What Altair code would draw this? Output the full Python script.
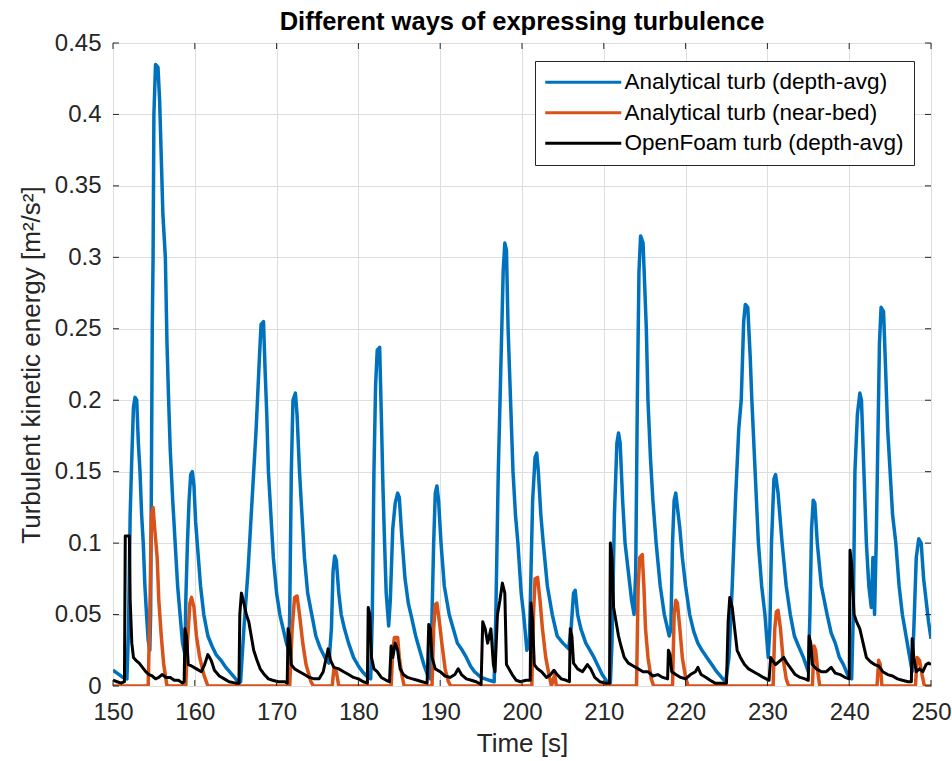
import altair as alt
import pandas as pd

# ---------------- data ----------------
names = ["Analytical turb (depth-avg)", "Analytical turb (near-bed)", "OpenFoam turb (depth-avg)"]
colors = ["#0072BD", "#D95319", "#000000"]

blue_t = [150.0, 150.5, 151.2, 151.7, 151.9, 152.1, 152.3, 152.5, 152.7, 152.9, 153.1, 153.3, 153.5, 153.7, 153.9,
          154.1, 154.3, 154.5, 154.6, 154.7, 154.8, 154.9, 155.0, 155.2, 155.5, 155.7, 155.9, 156.1, 156.4, 156.6,
          156.8, 157.0, 157.3, 157.6, 157.9, 158.2, 158.5, 158.8, 158.9, 159.1, 159.3, 159.5, 159.7, 159.9, 160.1,
          160.3, 160.7, 161.1, 161.6, 162.1, 162.6, 163.2, 163.8, 164.4, 165.0, 165.4, 165.6, 166.0, 166.5, 167.0,
          167.5, 167.9, 168.1, 168.4, 168.6, 168.8, 169.0, 169.3, 169.6, 170.0, 170.4, 170.8, 171.2, 171.5, 171.6,
          171.8, 172.0, 172.3, 172.5, 172.8, 173.1, 173.4, 173.8, 174.3, 174.8, 175.3, 175.9, 176.4, 176.7, 176.9,
          177.1, 177.3, 177.6, 177.9, 178.3, 178.8, 179.4, 180.0, 180.5, 181.0, 181.5, 181.7, 181.9, 182.1, 182.3,
          182.6, 182.8, 183.0, 183.2, 183.4, 183.7, 183.9, 184.2, 184.5, 184.8, 185.0, 185.3, 185.7, 186.1, 186.5,
          187.0, 187.5, 188.0, 188.5, 188.8, 189.0, 189.2, 189.4, 189.6, 189.8, 190.1, 190.5, 191.1, 191.6, 192.1,
          192.7, 193.2, 193.7, 194.2, 195.0, 196.0, 196.6, 196.8, 197.1, 197.4, 197.7, 197.9, 198.1, 198.3, 198.6,
          198.9, 199.2, 199.5, 199.9, 200.2, 200.6, 200.9, 201.1, 201.3, 201.6, 201.8, 202.0, 202.3, 202.6, 203.1,
          203.7, 204.3, 205.0, 205.7, 206.0, 206.3, 206.5, 206.8, 207.2, 207.8, 208.4, 208.8, 209.3, 209.8, 210.4,
          210.8, 211.0, 211.3, 211.6, 211.8, 212.0, 212.3, 212.6, 213.0, 213.4, 213.7, 213.9, 214.1, 214.3, 214.5,
          214.8, 215.0, 215.2, 215.4, 215.7, 216.0, 216.4, 216.9, 217.4, 218.0, 218.2, 218.4, 218.6, 218.8, 219.0,
          219.3, 219.6, 220.0, 220.5, 221.0, 221.5, 222.0, 222.6, 223.2, 223.8, 224.4, 224.9, 225.3, 225.7, 226.1,
          226.5, 226.8, 227.1, 227.3, 227.6, 227.9, 228.1, 228.5, 228.9, 229.3, 229.7, 230.1, 230.3, 230.5, 230.8,
          231.0, 231.3, 231.8, 232.3, 232.8, 233.3, 233.8, 234.4, 235.0, 235.2, 235.4, 235.6, 235.8, 236.1, 236.6,
          237.3, 237.8, 238.3, 238.8, 239.3, 239.8, 240.3, 240.5, 240.7, 241.0, 241.3, 241.5, 241.8, 242.1, 242.4,
          242.7, 242.9, 243.1, 243.3, 243.5, 243.7, 243.9, 244.2, 244.4, 244.7, 245.0, 245.3, 245.7, 246.1, 246.5,
          247.1, 247.7, 247.9, 248.2, 248.5, 248.8, 249.1, 249.4, 249.7, 250.0]
blue_v = [0.011, 0.009, 0.006, 0.005, 0.04, 0.12, 0.16, 0.195, 0.202, 0.2, 0.17, 0.15, 0.12, 0.1, 0.07,
          0.05, 0.032, 0.025, 0.05, 0.15, 0.25, 0.3, 0.4, 0.435, 0.433, 0.41, 0.37, 0.33, 0.3, 0.24,
          0.2, 0.165, 0.13, 0.1, 0.07, 0.05, 0.03, 0.022, 0.06, 0.1, 0.13, 0.148, 0.15, 0.14, 0.115,
          0.1, 0.07, 0.05, 0.035, 0.028, 0.022, 0.018, 0.013, 0.009, 0.005, 0.002, 0.003, 0.04, 0.08, 0.13,
          0.18, 0.23, 0.253, 0.255, 0.22, 0.19, 0.15, 0.12, 0.09, 0.065, 0.05, 0.04, 0.03, 0.025, 0.05,
          0.15, 0.2, 0.205, 0.19, 0.15, 0.12, 0.09, 0.065, 0.05, 0.035, 0.027, 0.02, 0.016, 0.04, 0.08,
          0.091, 0.088, 0.065, 0.05, 0.04, 0.03, 0.02, 0.014, 0.01, 0.007, 0.005, 0.05, 0.15, 0.21, 0.235,
          0.237, 0.19, 0.14, 0.1, 0.065, 0.042, 0.06, 0.11, 0.128, 0.135, 0.132, 0.105, 0.075, 0.058, 0.048,
          0.035, 0.025, 0.015, 0.007, 0.005, 0.05, 0.1, 0.135, 0.14, 0.13, 0.1, 0.07, 0.05, 0.04, 0.03,
          0.025, 0.02, 0.014, 0.01, 0.006, 0.004, 0.003, 0.05, 0.15, 0.22, 0.29, 0.31, 0.305, 0.25, 0.2,
          0.15, 0.12, 0.1, 0.065, 0.05, 0.025, 0.03, 0.08, 0.13, 0.16, 0.163, 0.15, 0.12, 0.1, 0.07,
          0.05, 0.035, 0.03, 0.026, 0.04, 0.065, 0.067, 0.05, 0.04, 0.03, 0.024, 0.02, 0.014, 0.008, 0.003,
          0.002, 0.03, 0.12, 0.17, 0.177, 0.17, 0.13, 0.1, 0.08, 0.06, 0.05, 0.08, 0.2, 0.29, 0.315,
          0.31, 0.28, 0.25, 0.2, 0.16, 0.13, 0.1, 0.07, 0.05, 0.035, 0.04, 0.1, 0.13, 0.135, 0.125,
          0.11, 0.09, 0.07, 0.05, 0.038, 0.03, 0.025, 0.02, 0.015, 0.01, 0.006, 0.003, 0.02, 0.07, 0.13,
          0.18, 0.2, 0.255, 0.267, 0.265, 0.23, 0.2, 0.15, 0.1, 0.07, 0.05, 0.02, 0.04, 0.1, 0.145,
          0.148, 0.135, 0.1, 0.07, 0.05, 0.035, 0.028, 0.02, 0.01, 0.05, 0.11, 0.13, 0.128, 0.1, 0.07,
          0.05, 0.037, 0.03, 0.02, 0.015, 0.008, 0.005, 0.05, 0.15, 0.19, 0.205, 0.2, 0.15, 0.1, 0.07,
          0.055, 0.09, 0.05, 0.1, 0.17, 0.24, 0.265, 0.262, 0.23, 0.18, 0.15, 0.12, 0.1, 0.07, 0.05,
          0.03, 0.01, 0.04, 0.09, 0.103, 0.1, 0.075, 0.06, 0.045, 0.033]

orange_t = [150.0, 154.3, 154.5, 154.7, 154.9, 155.1, 155.4, 155.6, 155.9, 156.2, 156.6, 158.9, 159.1, 159.4,
            159.6, 159.9, 160.2, 160.6, 161.1, 161.6, 171.6, 171.9, 172.2, 172.5, 172.8, 173.2, 173.6, 174.2,
            174.5, 176.8, 177.0, 177.3, 177.6, 184.0, 184.2, 184.4, 184.8, 185.0, 185.3, 185.6, 189.0, 189.2,
            189.4, 189.6, 189.9, 190.2, 190.6, 191.0, 191.3, 201.2, 201.4, 201.6, 201.9, 202.2, 202.5, 202.9,
            203.3, 203.6, 204.0, 204.2, 214.0, 214.2, 214.4, 214.7, 214.9, 215.1, 215.4, 215.8, 216.1, 218.4,
            218.6, 218.8, 219.0, 219.3, 219.6, 220.0, 220.3, 230.7, 230.9, 231.1, 231.3, 231.6, 231.9, 232.3,
            232.6, 235.5, 235.7, 235.9, 236.2, 236.4, 243.4, 243.6, 243.8, 244.0, 248.1, 248.3, 248.6, 248.9,
            249.2, 250.0]
orange_v = [0.0, 0.0, 0.05, 0.12, 0.125, 0.11, 0.09, 0.06, 0.035, 0.015, 0.0, 0.0, 0.03, 0.058,
            0.062, 0.055, 0.035, 0.02, 0.008, 0.0, 0.0, 0.04, 0.062, 0.063, 0.05, 0.03, 0.015, 0.003,
            0.0, 0.0, 0.012, 0.01, 0.0, 0.0, 0.025, 0.034, 0.034, 0.02, 0.008, 0.0, 0.0, 0.04,
            0.057, 0.058, 0.045, 0.03, 0.012, 0.003, 0.0, 0.0, 0.05, 0.075, 0.076, 0.06, 0.04, 0.02,
            0.008, 0.0, 0.008, 0.0, 0.0, 0.07, 0.09, 0.092, 0.07, 0.04, 0.02, 0.005, 0.0, 0.0,
            0.05, 0.06, 0.058, 0.04, 0.02, 0.006, 0.0, 0.0, 0.04, 0.052, 0.053, 0.04, 0.02, 0.005,
            0.0, 0.0, 0.028, 0.025, 0.008, 0.0, 0.0, 0.018, 0.015, 0.0, 0.0, 0.02, 0.018, 0.008,
            0.0, 0.0]

black_t = [150.0, 150.5, 151.0, 151.4, 151.5, 152.0, 152.1, 152.3, 152.5, 152.8, 153.2, 153.6, 154.0, 154.4,
           154.8, 155.2, 155.6, 156.0, 156.5, 157.0, 157.5, 158.0, 158.5, 158.7, 158.8, 159.0, 159.2, 159.6,
           160.2, 160.8, 161.2, 161.6, 162.0, 162.4, 163.0, 163.6, 164.2, 165.0, 165.4, 165.5, 165.7, 166.0,
           166.3, 166.6, 166.9, 167.2, 167.6, 168.0, 168.5, 169.0, 169.5, 170.2, 171.0, 171.3, 171.4, 171.6,
           171.8, 172.2, 172.8, 173.4, 174.0, 174.6, 175.2, 175.7, 176.0, 176.3, 176.6, 177.0, 177.6, 178.2,
           178.8, 179.4, 180.0, 180.6, 181.1, 181.2, 181.4, 181.6, 181.9, 182.3, 182.8, 183.4, 183.8, 184.0,
           184.2, 184.5, 184.8, 185.1, 185.5, 186.0, 186.6, 187.2, 187.8, 188.4, 188.6, 188.8, 189.0, 189.4,
           190.0, 190.6, 191.2, 191.8, 192.2, 192.6, 193.2, 193.8, 194.4, 195.0, 195.2, 195.5, 195.8, 196.2,
           196.5, 196.7, 197.0, 197.3, 197.6, 197.9, 198.1, 198.4, 198.8, 199.3, 199.8, 200.5, 201.0, 201.1,
           201.3, 201.5, 201.9, 202.4, 203.0, 203.5, 203.9, 204.3, 204.8, 205.4, 205.8, 205.9, 206.1, 206.3,
           206.8, 207.4, 208.0, 208.4, 208.9, 209.5, 210.2, 210.7, 210.8, 211.0, 211.2, 211.5, 211.8, 212.1,
           212.5, 213.0, 213.6, 214.2, 214.8, 215.4, 216.0, 216.6, 217.2, 217.8, 217.9, 218.1, 218.3, 218.8,
           219.4, 220.0, 220.6, 221.2, 221.5, 221.9, 222.5, 223.0, 223.6, 224.4, 225.0, 225.2, 225.4, 225.7,
           226.0, 226.3, 226.7, 227.2, 227.7, 228.3, 228.9, 229.5, 230.2, 230.4, 230.6, 231.0, 231.6, 232.0,
           232.4, 232.9, 233.4, 234.0, 234.6, 235.0, 235.1, 235.3, 235.5, 236.0, 236.6, 237.2, 237.8, 238.3,
           238.9, 239.5, 240.0, 240.1, 240.3, 240.6, 240.9, 241.3, 241.7, 242.1, 242.6, 243.1, 243.6, 244.1,
           244.7, 245.3, 245.9, 246.5, 247.2, 247.6, 247.7, 247.9, 248.2, 248.6, 249.0, 249.4, 249.7, 250.0]
black_v = [0.004, 0.003, 0.002, 0.003, 0.105, 0.105, 0.06, 0.03, 0.02, 0.018, 0.016, 0.013, 0.01, 0.008,
           0.007, 0.005, 0.006, 0.008, 0.006, 0.006, 0.004, 0.004, 0.002, 0.003, 0.04, 0.035, 0.015, 0.014,
           0.012, 0.01, 0.015, 0.022, 0.018, 0.011, 0.007, 0.005, 0.003, 0.002, 0.002, 0.05, 0.065, 0.058,
           0.05, 0.045, 0.035, 0.025, 0.018, 0.012, 0.008, 0.005, 0.004, 0.003, 0.003, 0.002, 0.04, 0.035,
           0.015, 0.012, 0.01, 0.008, 0.006, 0.005, 0.005, 0.01, 0.018, 0.026, 0.018, 0.013, 0.012, 0.01,
           0.008, 0.006, 0.005, 0.003, 0.002, 0.055, 0.05, 0.02, 0.012, 0.01, 0.006, 0.004, 0.003, 0.028,
           0.02, 0.03, 0.025, 0.012, 0.008, 0.006, 0.005, 0.004, 0.003, 0.002, 0.043, 0.04, 0.02, 0.012,
           0.01, 0.007, 0.006, 0.008, 0.012, 0.008, 0.005, 0.004, 0.003, 0.001, 0.045, 0.04, 0.03, 0.04,
           0.015, 0.01, 0.05, 0.06, 0.072, 0.065, 0.015, 0.012, 0.008, 0.004, 0.003, 0.004, 0.004, 0.058,
           0.045, 0.015, 0.012, 0.01, 0.006, 0.008, 0.011, 0.008, 0.005, 0.004, 0.003, 0.04, 0.035, 0.016,
           0.012, 0.01, 0.015, 0.012, 0.006, 0.003, 0.002, 0.002, 0.1, 0.09, 0.055, 0.045, 0.035, 0.028,
           0.02, 0.016, 0.014, 0.012, 0.01, 0.01, 0.007, 0.008, 0.006, 0.005, 0.025, 0.022, 0.01, 0.008,
           0.006, 0.005, 0.008, 0.01, 0.013, 0.008, 0.006, 0.004, 0.002, 0.002, 0.002, 0.045, 0.062, 0.055,
           0.04, 0.025, 0.02, 0.015, 0.012, 0.01, 0.008, 0.006, 0.004, 0.02, 0.018, 0.015, 0.018, 0.02,
           0.016, 0.012, 0.008, 0.006, 0.005, 0.004, 0.035, 0.03, 0.015, 0.012, 0.01, 0.01, 0.013, 0.009,
           0.008, 0.006, 0.005, 0.095, 0.085, 0.05, 0.045, 0.04, 0.03, 0.02, 0.017, 0.015, 0.014, 0.01,
           0.008, 0.007, 0.005, 0.004, 0.003, 0.003, 0.033, 0.02, 0.01, 0.012, 0.01, 0.015, 0.016, 0.015]

x_ticks = [150, 160, 170, 180, 190, 200, 210, 220, 230, 240, 250]
y_ticks = [0, 0.05, 0.1, 0.15, 0.2, 0.25, 0.3, 0.35, 0.4, 0.45]

# ---------------- chart ----------------
W, H = 818, 643
FONT = "Liberation Sans, Arial, Helvetica, sans-serif"
TXT = "#262626"

def series(ts, vs, name):
    return pd.DataFrame({"t": ts, "v": vs, "series": name})

df_blue = series(blue_t, blue_v, names[0])
df_orange = series(orange_t, orange_v, names[1])
df_black = series(black_t, black_v, names[2])

x_enc = alt.X("t:Q", scale=alt.Scale(domain=[150, 250], nice=False, zero=False),
              axis=alt.Axis(values=x_ticks, title="Time [s]", format="d",
                            labelFlush=False, labelOverlap=False))
y_enc = alt.Y("v:Q", scale=alt.Scale(domain=[0, 0.45], nice=False),
              axis=alt.Axis(values=y_ticks, title="Turbulent kinetic energy [m²/s²]", format="~g",
                            labelFlush=False, labelOverlap=False))
color_enc = alt.Color("series:N",
                      scale=alt.Scale(domain=names, range=colors),
                      sort=names,
                      legend=alt.Legend(title=None, orient="none", legendX=422, legendY=18,
                                        symbolType="M-5,0L5,0", symbolSize=231, symbolStrokeWidth=3,
                                        symbolOffset=27,
                                        labelFontSize=22.5, labelFont=FONT, labelColor="#000000",
                                        labelOffset=30, padding=10, rowPadding=7.5,
                                        strokeColor="#262626", fillColor="#ffffff",
                                        labelLimit=400))

def line(df, width):
    return alt.Chart(df).mark_line(strokeWidth=width, clip=True, strokeJoin="round").encode(
        x=x_enc, y=y_enc, color=color_enc)

# inward tick marks on all four sides (MATLAB box style)
xt = pd.DataFrame({"t": x_ticks})
yt = pd.DataFrame({"v": y_ticks})
tick_style = dict(color=TXT, strokeWidth=1)
TL = 6
tb = alt.Chart(xt).mark_rule(**tick_style).encode(x=x_enc, y=alt.value(H), y2=alt.value(H - TL))
tt = alt.Chart(xt).mark_rule(**tick_style).encode(x=x_enc, y=alt.value(0), y2=alt.value(TL))
tl = alt.Chart(yt).mark_rule(**tick_style).encode(y=y_enc, x=alt.value(0), x2=alt.value(TL))
tr = alt.Chart(yt).mark_rule(**tick_style).encode(y=y_enc, x=alt.value(W), x2=alt.value(W - TL))

chart = alt.layer(
    line(df_blue, 3.5), line(df_orange, 3.5), line(df_black, 3.0), tb, tt, tl, tr
).properties(
    width=W, height=H,
    background="#ffffff",
    title=alt.Title("Different ways of expressing turbulence", font=FONT, fontSize=25.5,
                    fontWeight="bold", color="#000000", anchor="middle", offset=6, dy=10),
    autosize=alt.AutoSizeParams(type="none"),
    padding={"left": 113, "top": 43, "right": 21, "bottom": 75},
).configure_view(
    stroke=TXT, strokeWidth=1
).configure_axis(
    domain=False, ticks=False, grid=True, gridColor="#dedede", gridWidth=1,
    labelFont=FONT, labelFontSize=24, labelColor=TXT,
    titleFont=FONT, titleFontSize=26, titleFontWeight="normal", titleColor=TXT,
).configure_axisX(
    labelPadding=14, titlePadding=6
).configure_axisY(
    labelPadding=12, titlePadding=10
)

chart.save("out.html", embed_options={"renderer": "svg", "actions": False})
